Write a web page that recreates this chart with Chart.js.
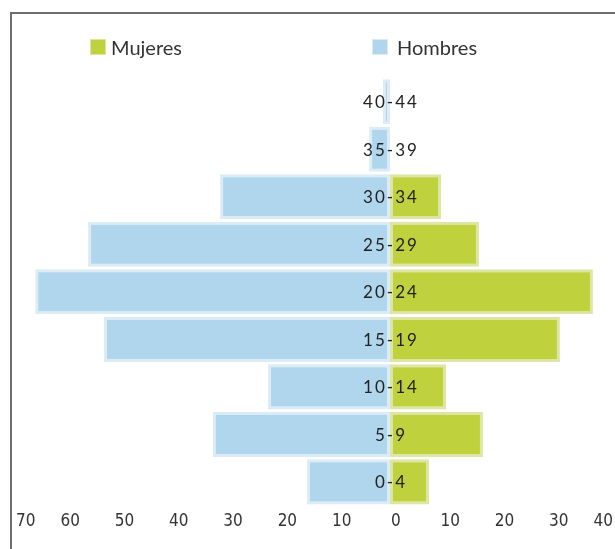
<!DOCTYPE html>
<html>
<head>
<meta charset="utf-8">
<script src="https://cdn.jsdelivr.net/npm/chart.js@4/dist/chart.umd.min.js"></script>
<style>
  html, body { margin: 0; padding: 0; background: #fff; overflow: hidden; }
  #wrap { position: relative; width: 615px; height: 549px; }
  #frame { position: absolute; left: 10px; top: 12px; width: 700px; height: 700px;
           border-left: 2px solid #6e6e6e; border-top: 2px solid #6e6e6e; pointer-events: none; }
  canvas { position: absolute; left: 0; top: 0; }
</style>
</head>
<body>
<div id="wrap">
  <canvas id="c" width="615" height="549"></canvas>
  <div id="frame"></div>
</div>
<script>
// Age groups (bottom to top)
const ageGroups = ['0-4', '5-9', '10-14', '15-19', '20-24', '25-29', '30-34', '35-39', '40-44'];
// Women (right side)
const mujeres = [7.1, 16.9, 10.2, 30.9, 36.9, 16.2, 9.3, 0, 0];
// Men (left side, drawn as negative)
const hombres = [15.1, 32.2, 22.2, 52.0, 64.5, 54.9, 30.9, 3.8, 1.3];
// Axis tick labels
const tickLabels = ['70', '60', '50', '40', '30', '20', '10', '0', '10', '20', '30', '40'];
const seriesNames = ['Mujeres', 'Hombres'];

const GREEN = '#bfd13c', GREEN_EDGE = '#dde6a4';
const BLUE = '#b0d6ed', BLUE_EDGE = '#dcecf7';

const legendPlugin = {
  id: 'customLegend',
  afterDraw(chart) {
    const ctx = chart.ctx;
    const xs = [90, 372];
    const tx = [111, 397];
    ctx.save();
    chart.data.datasets.forEach((ds, i) => {
      ctx.fillStyle = ds.borderColor;
      ctx.fillRect(xs[i], 39, 16, 16);
      ctx.fillStyle = ds.backgroundColor;
      ctx.fillRect(xs[i] + 1, 40, 14, 14);
      ctx.fillStyle = '#333';
      ctx.font = '20px Lato, "Noto Sans", sans-serif';
      ctx.textBaseline = 'alphabetic';
      ctx.textAlign = 'left';
      ctx.fillText(ds.label, tx[i], 55);
    });
    ctx.restore();
  }
};

const centerLabels = {
  id: 'centerLabels',
  afterDatasetsDraw(chart) {
    const ctx = chart.ctx;
    const xs = chart.scales.x, ys = chart.scales.y;
    const x0 = xs.getPixelForValue(0);
    ctx.save();
    ctx.font = '17px Lato, "Noto Sans", sans-serif';
    if ('letterSpacing' in ctx) ctx.letterSpacing = '2px';
    ctx.fillStyle = '#222';
    ctx.textAlign = 'center';
    ctx.textBaseline = 'middle';
    chart.data.labels.forEach((lab, i) => {
      ctx.fillText(lab, x0 + 1, ys.getPixelForValue(i) + 1);
    });
    ctx.restore();
  }
};

new Chart(document.getElementById('c'), {
  type: 'bar',
  data: {
    labels: ageGroups,
    datasets: [
      { label: seriesNames[0], data: mujeres, backgroundColor: GREEN, borderColor: GREEN_EDGE,
        borderWidth: 3, borderSkipped: false, xAxisID: 'x' },
      { label: seriesNames[1], data: hombres.map(v => -v), backgroundColor: BLUE, borderColor: BLUE_EDGE,
        borderWidth: 3, borderSkipped: false, xAxisID: 'x' }
    ]
  },
  options: {
    indexAxis: 'y',
    responsive: false,
    animation: false,
    devicePixelRatio: 1,
    categoryPercentage: 1,
    barPercentage: 0.95,
    layout: { padding: { left: 16, right: 2, top: 78, bottom: 11 } },
    plugins: { legend: { display: false }, tooltip: { enabled: false } },
    scales: {
      y: { reverse: true, stacked: true, display: false },
      x: { type: 'linear', stacked: true, min: -68, max: 40.55, display: false },
      xl: {
        type: 'linear', axis: 'x', position: 'bottom', min: -70, max: 40,
        grid: { display: false, drawTicks: false },
        border: { display: false },
        afterFit: (s) => { s.paddingLeft = 0; s.paddingRight = 0; },
        ticks: {
          stepSize: 10, align: 'inner', padding: 6, color: '#333',
          font: { family: '"Liberation Sans Narrow", "DejaVu Sans Condensed", Roboto, sans-serif', size: 17 },
          callback: (v, i) => tickLabels[i]
        }
      }
    }
  },
  plugins: [legendPlugin, centerLabels]
});
</script>
</body>
</html>
